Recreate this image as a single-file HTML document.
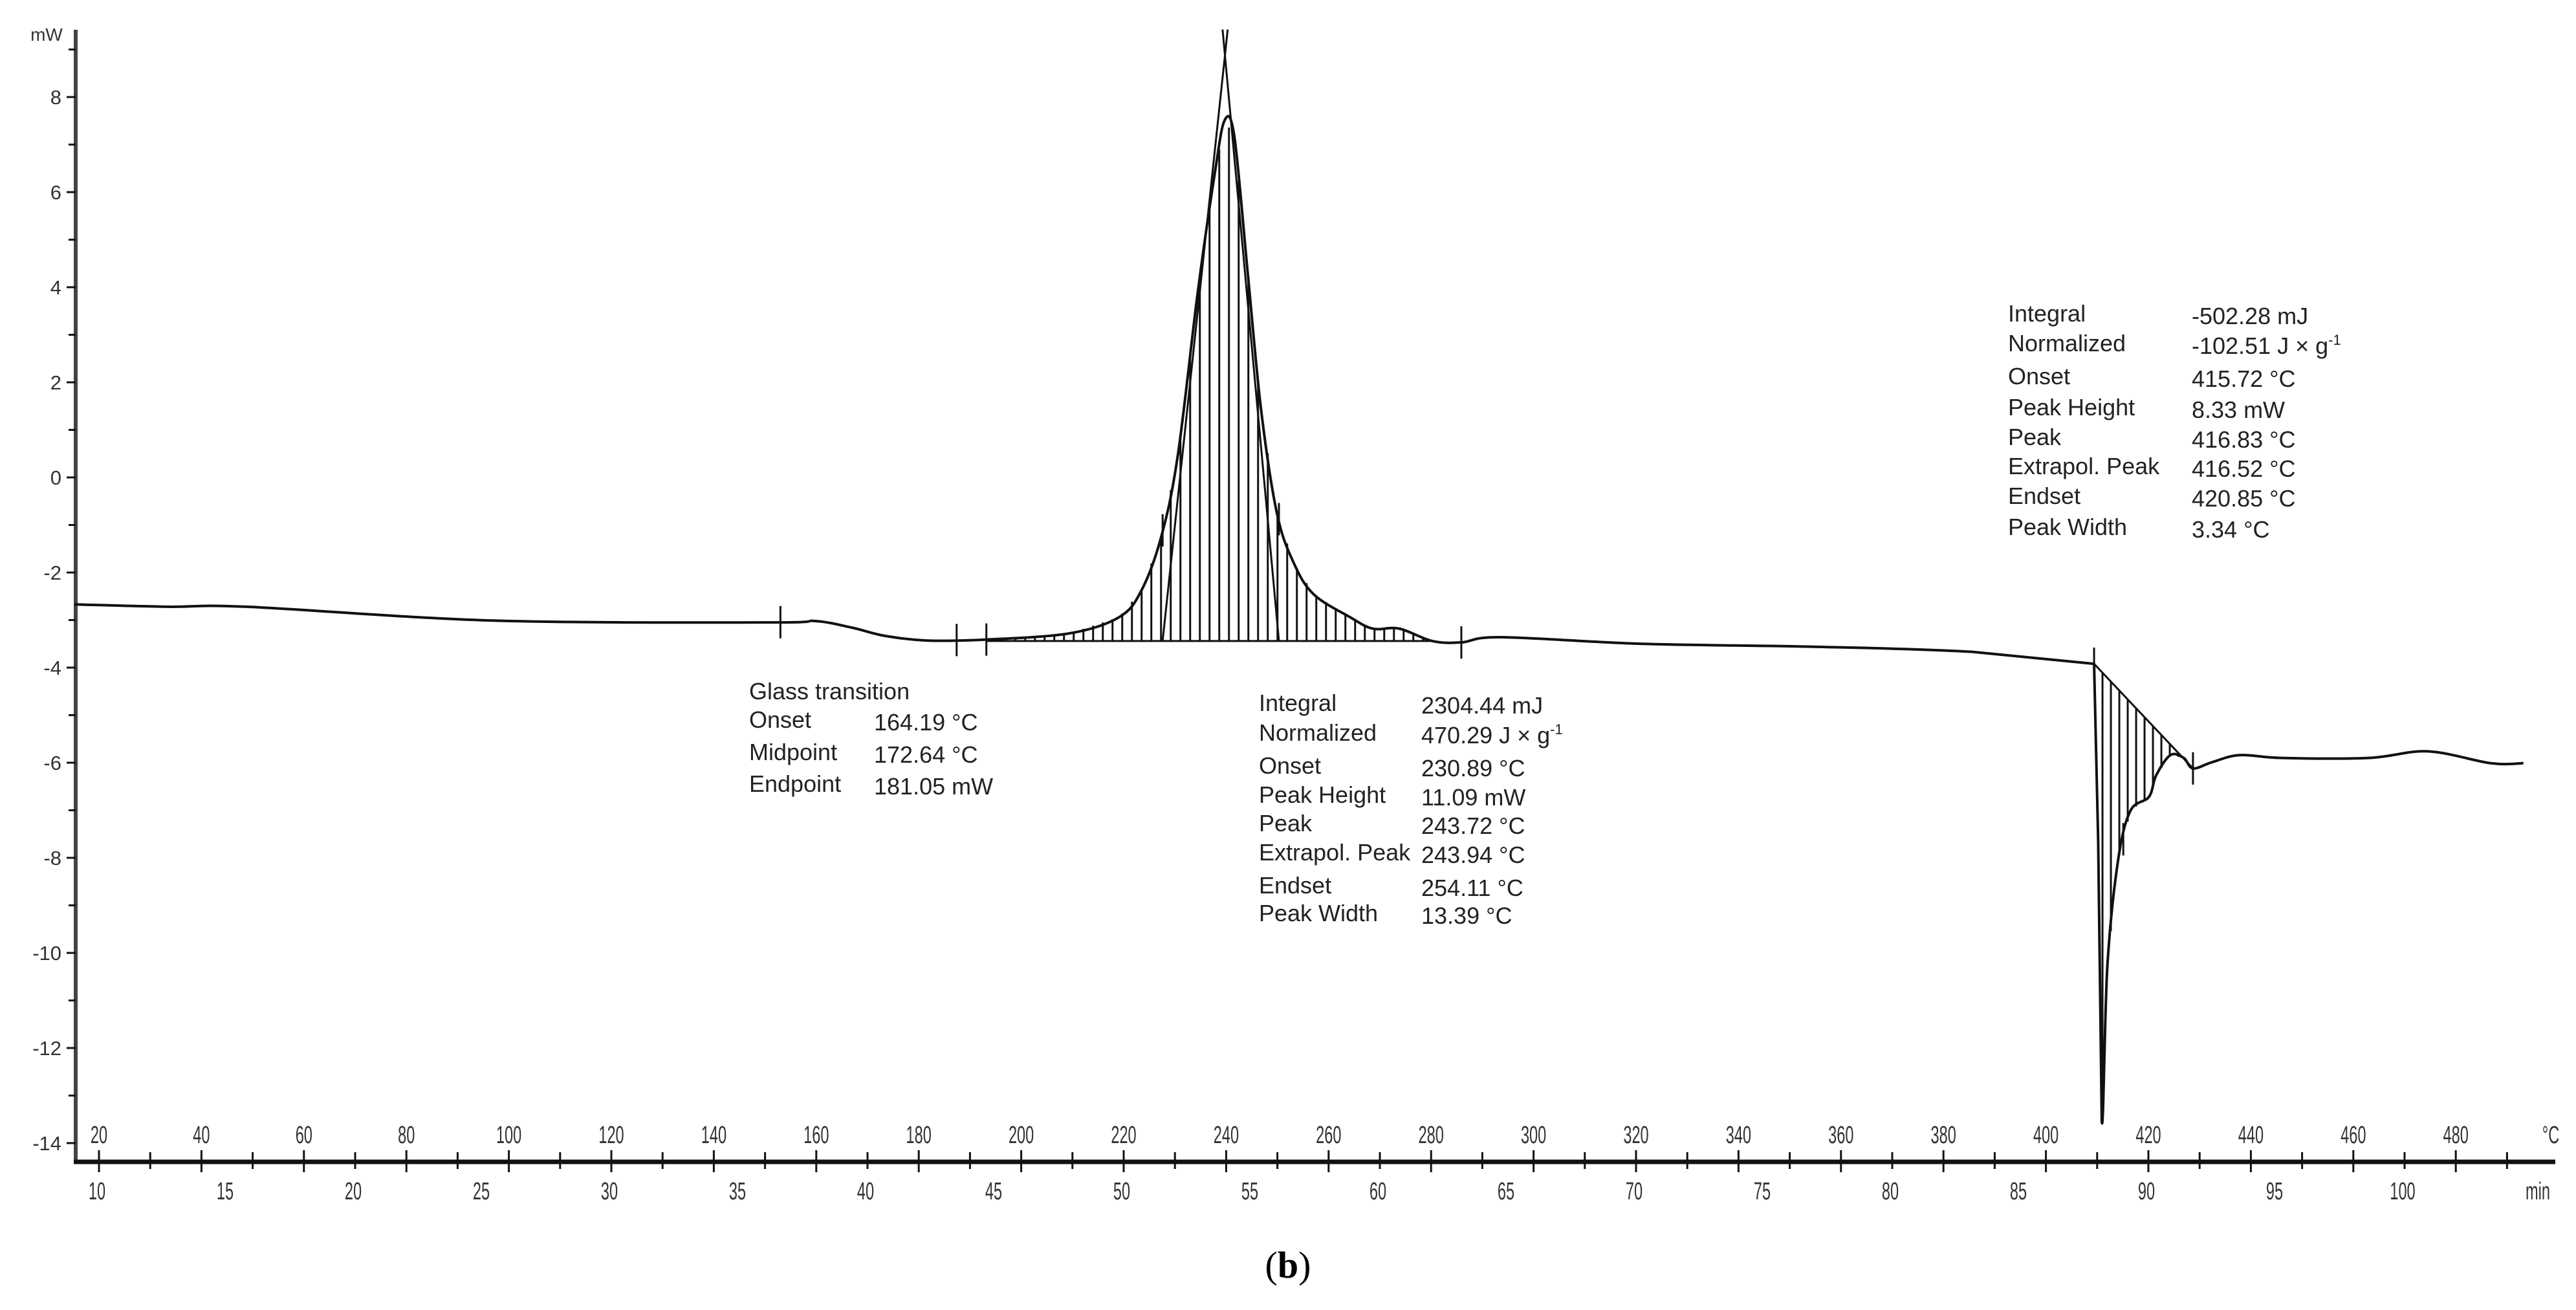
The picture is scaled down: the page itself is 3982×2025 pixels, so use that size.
<!DOCTYPE html>
<html><head><meta charset="utf-8"><style>
html,body{margin:0;padding:0;background:#fff;}
svg{display:block;font-family:"Liberation Sans",sans-serif;}
</style></head><body>
<svg id="chart" width="3982" height="2025" viewBox="0 0 3982 2025" xmlns="http://www.w3.org/2000/svg">
<g id="axes"></g>
<g id="hatch" stroke="#111" stroke-width="3"></g>
<g id="series"></g>
<g id="ann" font-size="36" fill="#222"></g>
<text x="1991" y="1975" text-anchor="middle" font-family="Liberation Serif, serif" font-size="58">(<tspan font-weight="bold">b</tspan>)</text>
</svg>
<script>
// ---- data ----
const tempC = [15.2,33.4,48.8,96.9,151.4,159.8,167,173.3,181.6,193.2,209.4,219.1,223.5,227.4,230.6,234.5,237.8,239.7,241.6,244.2,246.8,249.9,253.2,257.1,264.2,268.6,273.8,280.2,285.9,293.6,321.4,354.2,385.8,409.4,410.2,410.9,412.0,414.1,416.5,420.1,421.5,424.3,426.9,428.7,432.4,437.8,446.0,463.0,474.5,486.8,493.2];
const heatFlow = [-2.67,-2.72,-2.72,-3.01,-3.05,-3.02,-3.16,-3.33,-3.43,-3.41,-3.28,-2.94,-2.37,-1.22,0.49,3.93,6.41,7.51,7.17,4.31,1.44,-0.75,-1.80,-2.46,-2.94,-3.18,-3.18,-3.44,-3.47,-3.36,-3.50,-3.56,-3.67,-3.92,-7.65,-13.54,-10.26,-8.04,-7.01,-6.72,-6.27,-5.84,-5.90,-6.12,-5.99,-5.84,-5.90,-5.90,-5.76,-6.01,-6.01];
const yTicks = [8,6,4,2,0,-2,-4,-6,-8,-10,-12,-14];
const tempTicks = [20,40,60,80,100,120,140,160,180,200,220,240,260,280,300,320,340,360,380,400,420,440,460,480];
const timeTicks = [10,15,20,25,30,35,40,45,50,55,60,65,70,75,80,85,90,95,100];
const peak1Base = [[193.2,-3.44],[280.2,-3.44]];
const peak2Base = [[409.4,-3.92],[428.7,-6.12]];
const markerTemps = [153,187.4,193.2,227.6,250.3,285.9,409.4,415.1,428.7];
const tangentA = [[227.6,-3.44],[240.3,9.42]];
const tangentB = [[250.3,-3.44],[239.3,9.42]];

// ---- scales ----
const X = t => 153 + (t-20)*7.92;
const Y = v => 150 + (8-v)*73.5;
const XT = m => 150 + (m-10)*39.6;
const NS = "http://www.w3.org/2000/svg";
function mk(tag, parent, attrs){const e=document.createElementNS(NS,tag);for(const k in attrs)e.setAttribute(k,attrs[k]);parent.appendChild(e);return e;}
const axes=document.getElementById('axes'), hatch=document.getElementById('hatch'), series=document.getElementById('series');

let a=mk('line',axes,{x1:117,y1:46,x2:117,y2:1796,stroke:'#444','stroke-width':6});


a=mk('line',axes,{x1:114,y1:1796,x2:3950,y2:1796,stroke:'#111','stroke-width':7});


let u=mk('text',axes,{x:72,y:63,'font-size':28,'text-anchor':'middle',fill:'#333'});u.textContent='mW';


for(let v=9; v>=-14; v--){
  const major = yTicks.includes(v);
  mk('line',axes,{x1:major?103:106,y1:Y(v),x2:117,y2:Y(v),stroke:'#111','stroke-width':3});
}
yTicks.forEach(v=>{const t=mk('text',axes,{x:95,y:Y(v)+11,'font-size':31,'text-anchor':'end',fill:'#333'});t.textContent=v;

});
for(let T=20; T<=490; T+=10){
  const major = T%20===0;
  mk('line',axes,{x1:X(T),y1:major?1778:1781,x2:X(T),y2:major?1812:1807,stroke:'#111','stroke-width':3});
}
tempTicks.forEach(T=>{const t=mk('text',axes,{'font-size':38,'text-anchor':'middle',fill:'#333',transform:`translate(${X(T)},1767) scale(0.62,1)`});t.textContent=T;

});
let c=mk('text',axes,{'font-size':38,'text-anchor':'middle',fill:'#333',transform:'translate(3943,1767) scale(0.62,1)'});c.textContent='°C';


timeTicks.forEach(m=>{const t=mk('text',axes,{'font-size':38,'text-anchor':'middle',fill:'#333',transform:`translate(${XT(m)},1854) scale(0.62,1)`});t.textContent=m;

});
c=mk('text',axes,{'font-size':38,'text-anchor':'middle',fill:'#333',transform:'translate(3923,1854) scale(0.62,1)'});c.textContent='min';



function curveAt(T){for(let i=0;i<tempC.length-1;i++){if(T>=tempC[i]&&T<=tempC[i+1]){const f=(T-tempC[i])/(tempC[i+1]-tempC[i]);return heatFlow[i]+f*(heatFlow[i+1]-heatFlow[i]);}}return heatFlow[heatFlow.length-1];}
function lineAt(b,T){const f=(T-b[0][0])/(b[1][0]-b[0][0]);return b[0][1]+f*(b[1][1]-b[0][1]);}

function doHatch(b,step){const x0=X(b[0][0]),x1=X(b[1][0]);for(let x=x0+step;x<x1;x+=step){const T=20+(x-153)/7.92;
  const h=mk('line',hatch,{x1:x,y1:Y(lineAt(b,T)),x2:x,y2:Y(curveAt(T))});
  
  }}
doHatch(peak1Base,15);
doHatch(peak2Base,13);
[peak1Base,peak2Base].forEach(b=>{const l=mk('line',series,{x1:X(b[0][0]),y1:Y(b[0][1]),x2:X(b[1][0]),y2:Y(b[1][1]),stroke:'#111','stroke-width':3});

});
[tangentA,tangentB].forEach(b=>{const l=mk('line',series,{x1:X(b[0][0]),y1:Y(b[0][1]),x2:X(b[1][0]),y2:Y(b[1][1]),stroke:'#111','stroke-width':3});

});
// smooth main curve (Catmull-Rom), straight around the sharp dip
const pts=tempC.map((t,i)=>[X(t),Y(heatFlow[i])]);
let d='M'+pts[0][0]+','+pts[0][1];
for(let i=0;i<pts.length-1;i++){
  const p1=pts[i],p2=pts[i+1];
  const sharp = tempC[i]>=385 && tempC[i+1]<=411;
  if(sharp){ d+=` L${p2[0]},${p2[1]}`; continue; }
  const p0=pts[Math.max(0,i-1)],p3=pts[Math.min(pts.length-1,i+2)];
  const k=1/6;
  const c1=[p1[0]+(p2[0]-p0[0])*k,p1[1]+(p2[1]-p0[1])*k];
  const c2=[p2[0]-(p3[0]-p1[0])*k,p2[1]-(p3[1]-p1[1])*k];
  d+=` C${c1[0]},${c1[1]} ${c2[0]},${c2[1]} ${p2[0]},${p2[1]}`;
}
const p=mk('path',series,{d:d,fill:'none',stroke:'#111','stroke-width':4,'stroke-linejoin':'round'});


markerTemps.forEach(T=>{const y=Y(curveAt(T));const m=mk('line',series,{x1:X(T),y1:y-25,x2:X(T),y2:y+25,stroke:'#111','stroke-width':3});

});

const ann=document.getElementById('ann');
function block(name,lx,vx,ys,labels,values){const g=mk('g',ann,{});
 labels.forEach((l,i)=>{const t=mk('text',g,{x:lx,y:ys[i]+12});t.textContent=l;});
 values.forEach((v,i)=>{if(v===null)return;const t=mk('text',g,{x:vx,y:ys[i]+16});t.innerHTML=v;});}
block('glass-transition-annotation',1158,1351,[1069,1113,1163,1212],['Glass transition','Onset','Midpoint','Endpoint'],[null,'164.19 °C','172.64 °C','181.05 mW']);
block('exotherm-peak-annotation',1946,2197,[1087,1133,1184,1229,1273,1318,1369,1412],['Integral','Normalized','Onset','Peak Height','Peak','Extrapol. Peak','Endset','Peak Width'],['2304.44 mJ','470.29 J × g<tspan font-size="22" dy="-14">-1</tspan>','230.89 °C','11.09 mW','243.72 °C','243.94 °C','254.11 °C','13.39 °C']);
block('endotherm-peak-annotation',3104,3388,[485,531,582,630,676,721,767,815],['Integral','Normalized','Onset','Peak Height','Peak','Extrapol. Peak','Endset','Peak Width'],['-502.28 mJ','-102.51 J × g<tspan font-size="22" dy="-14">-1</tspan>','415.72 °C','8.33 mW','416.83 °C','416.52 °C','420.85 °C','3.34 °C']);
</script>
</body></html>
